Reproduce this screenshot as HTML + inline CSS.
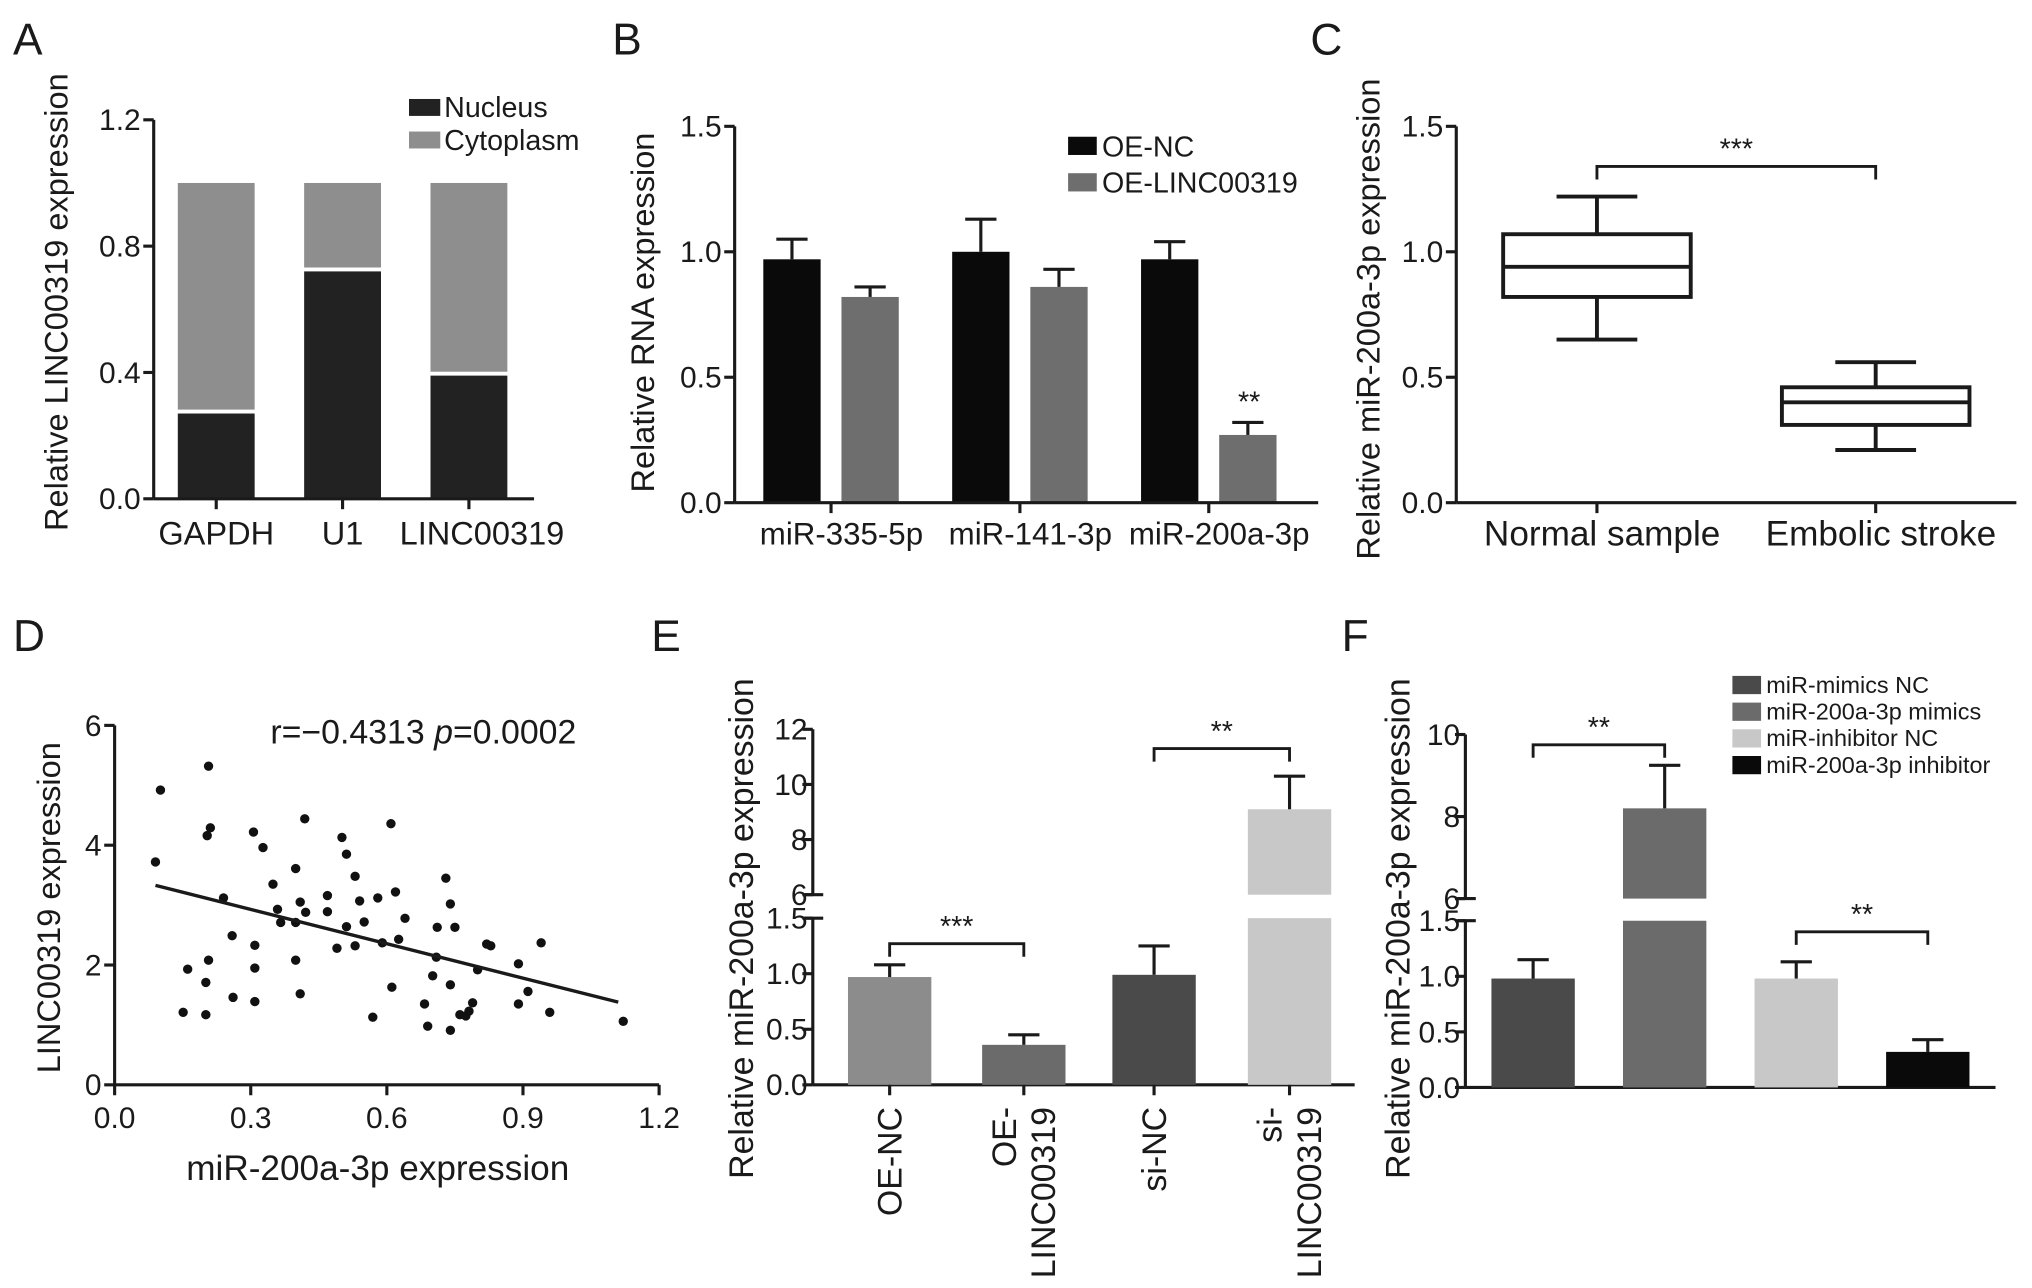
<!DOCTYPE html>
<html><head><meta charset="utf-8"><style>
html,body{margin:0;padding:0;background:#fff;}
svg{display:block;font-family:"Liberation Sans",Arial,sans-serif;}
</style></head><body>
<svg id="fig" width="2032" height="1288" viewBox="0 0 1560 989" preserveAspectRatio="none" xmlns="http://www.w3.org/2000/svg"></svg>
<script>
// ---- Panel A data ----
const aCats = ["GAPDH","U1","LINC00319"];
const aNucleus = [0.27,0.72,0.39];
const aTotal = [1.0,1.0,1.0];
const aTicks = [0,0.4,0.8,1.2];
// ---- Panel B data ----
const bCats = ["miR-335-5p","miR-141-3p","miR-200a-3p"];
const bNC = [0.97,1.0,0.97];
const bNCerr = [0.08,0.13,0.07];
const bOE = [0.82,0.86,0.27];
const bOEerr = [0.04,0.07,0.05];
const bTicks = [0,0.5,1.0,1.5];
// ---- Panel C data ----
const cCats = ["Normal sample","Embolic stroke"];
const cMin = [0.65,0.21];
const cQ1 = [0.82,0.31];
const cMed = [0.94,0.40];
const cQ3 = [1.07,0.46];
const cMax = [1.22,0.56];
const cTicks = [0,0.5,1.0,1.5];
// ---- Panel D data ----
const dX = [0.101,0.09,0.207,0.211,0.204,0.24,0.161,0.151,0.207,0.201,0.201,0.259,0.261,0.306,0.327,0.309,0.309,0.309,0.349,0.359,0.366,0.399,0.409,0.399,0.399,0.409,0.419,0.421,0.469,0.469,0.49,0.501,0.511,0.511,0.53,0.53,0.54,0.55,0.569,0.58,0.59,0.609,0.611,0.619,0.626,0.64,0.683,0.69,0.701,0.709,0.711,0.73,0.74,0.74,0.74,0.75,0.761,0.774,0.781,0.789,0.8,0.82,0.829,0.89,0.89,0.911,0.94,0.959,1.121];
const dY = [4.92,3.72,5.32,4.29,4.16,3.12,1.93,1.21,2.08,1.71,1.17,2.49,1.46,4.22,3.96,2.33,1.95,1.39,3.35,2.93,2.71,3.61,3.05,2.71,2.08,1.52,4.44,2.88,3.16,2.89,2.28,4.13,3.85,2.64,3.48,2.32,3.07,2.72,1.13,3.12,2.37,4.36,1.63,3.22,2.43,2.78,1.35,0.98,1.82,2.13,2.63,3.45,3.02,1.67,0.91,2.63,1.17,1.15,1.23,1.37,1.92,2.35,2.32,2.02,1.35,1.56,2.37,1.21,1.06];
const dFitX = [0.09,1.11];
const dFitY = [3.33,1.38];
const dXTicks = [0,0.3,0.6,0.9,1.2];
const dYTicks = [0,2,4,6];
// ---- Panel E data ----
const eCats = [["OE-NC"],["OE-","LINC00319"],["si-NC"],["si-","LINC00319"]];
const eVals = [0.97,0.36,0.99,9.1];
const eErr = [0.11,0.09,0.26,1.2];
const eLowTicks = [0,0.5,1.0,1.5];
const eHighTicks = [6,8,10,12];
// ---- Panel F data ----
const fNames = ["miR-mimics NC","miR-200a-3p mimics","miR-inhibitor NC","miR-200a-3p inhibitor"];
const fVals = [0.98,8.2,0.98,0.32];
const fErr = [0.17,1.05,0.15,0.11];
const fLowTicks = [0,0.5,1.0,1.5];
const fHighTicks = [6,8,10];

const NS="http://www.w3.org/2000/svg";
const svg=document.getElementById('fig');
const TS=23, CS=25, AS=25;
function el(tag,attrs,parent){const e=document.createElementNS(NS,tag);for(const k in attrs)e.setAttribute(k,attrs[k]);(parent||svg).appendChild(e);return e;}
function txt(s,x,y,size,anchor,parent,rot){const t=el('text',{x:x,y:y,'font-size':size,'text-anchor':anchor||'middle',fill:'#1a1a1a'},parent);if(rot)t.setAttribute('transform',`rotate(${rot} ${x} ${y})`);t.textContent=s;return t;}
function line(x1,y1,x2,y2,parent,w){return el('line',{x1:x1,y1:y1,x2:x2,y2:y2,stroke:'#1a1a1a','stroke-width':w||2.4},parent);}
function grp(name){const g=el('g',{});return g;}
function errbar(x,y1,y2,parent){line(x,y1,x,y2,parent,2.4);line(x-12,y2,x+12,y2,parent,2.4);}
function bracket(x1,x2,y,label,parent){el('path',{d:`M${x1} ${y+10}V${y}H${x2}V${y+10}`,fill:'none',stroke:'#1a1a1a','stroke-width':2.2},parent);txt(label,(x1+x2)/2,y-6,22,'middle',parent);}
function letter(s,x,y){const g=grp('panel-label-'+s.toLowerCase());txt(s,x,y,34,'start',g);}

// ===== Panel A =====
(function(){
  const g=grp('panel-a');
  const x0=118,y0=383,y1=92,vmax=1.2;
  const Y=v=>y0-(v/vmax)*(y0-y1);
  const centers=[166,263,360];const bw=59;
  letter('A',10,42);
  aCats.forEach((c,i)=>{
    const cx=centers[i];
    const r1=el('rect',{x:cx-bw/2,y:Y(aNucleus[i]),width:bw,height:y0-Y(aNucleus[i]),fill:'#222'},g);
    
    const r2=el('rect',{x:cx-bw/2,y:Y(aTotal[i]),width:bw,height:Y(aNucleus[i])-Y(aTotal[i])-3,fill:'#8e8e8e'},g);
    
    line(cx,y0,cx,y0+8,g);
    txt(c,cx+(i==2?10:0),418,CS,'middle',g);
  });
  line(x0,y1,x0,y0,g);line(x0,y0,410,y0,g);
  aTicks.forEach(t=>{line(x0-8,Y(t),x0,Y(t),g);txt(t.toFixed(1),x0-10,Y(t)+8,TS,'end',g);});
  txt('Relative LINC00319 expression',52,232,AS,'middle',g,-90);
  const lg=grp('legend-a');
  el('rect',{x:314,y:76,width:24,height:13,fill:'#222'},lg);txt('Nucleus',341,90,22,'start',lg);
  el('rect',{x:314,y:101,width:24,height:13,fill:'#8e8e8e'},lg);txt('Cytoplasm',341,115,22,'start',lg);
})();

// ===== Panel B =====
(function(){
  const g=grp('panel-b');
  const x0=564,y0=386,y1=97,vmax=1.5;
  const Y=v=>y0-(v/vmax)*(y0-y1);
  const centers=[638,783,928];const bw=44;
  letter('B',470,42);
  bCats.forEach((c,i)=>{
    const cx=centers[i];
    const xa=cx-30,xb=cx+30;
    const r1=el('rect',{x:xa-bw/2,y:Y(bNC[i]),width:bw,height:y0-Y(bNC[i]),fill:'#0a0a0a'},g);
    
    errbar(xa,Y(bNC[i]),Y(bNC[i]+bNCerr[i]),g);
    const r2=el('rect',{x:xb-bw/2,y:Y(bOE[i]),width:bw,height:y0-Y(bOE[i]),fill:'#6e6e6e'},g);
    
    errbar(xb,Y(bOE[i]),Y(bOE[i]+bOEerr[i]),g);
    line(cx,y0,cx,y0+8,g);
    txt(c,cx+8,418,24,'middle',g);
  });
  txt('**',959,316,22,'middle',g);
  line(x0,y1,x0,y0,g);line(x0,y0,1012,y0,g);
  bTicks.forEach(t=>{line(x0-8,Y(t),x0,Y(t),g);txt(t.toFixed(1),x0-10,Y(t)+8,TS,'end',g);});
  txt('Relative RNA expression',502,240,AS,'middle',g,-90);
  const lg=grp('legend-b');
  el('rect',{x:820,y:105,width:22,height:14,fill:'#0a0a0a'},lg);txt('OE-NC',846,120,22,'start',lg);
  el('rect',{x:820,y:133,width:22,height:14,fill:'#6e6e6e'},lg);txt('OE-LINC00319',846,148,22,'start',lg);
})();

// ===== Panel C =====
(function(){
  const g=grp('panel-c');
  const x0=1118,y0=386,y1=97,vmax=1.5;
  const Y=v=>y0-(v/vmax)*(y0-y1);
  const centers=[1226,1440];const bw=144;
  letter('C',1006,42);
  cCats.forEach((c,i)=>{
    const cx=centers[i];
    const b=grp('box-'+i);g.appendChild(b);
    el('rect',{x:cx-bw/2,y:Y(cQ3[i]),width:bw,height:Y(cQ1[i])-Y(cQ3[i]),fill:'none',stroke:'#1a1a1a','stroke-width':3},b);
    line(cx-bw/2,Y(cMed[i]),cx+bw/2,Y(cMed[i]),b,3);
    line(cx,Y(cQ3[i]),cx,Y(cMax[i]),b,3);line(cx,Y(cQ1[i]),cx,Y(cMin[i]),b,3);
    line(cx-31,Y(cMax[i]),cx+31,Y(cMax[i]),b,3);line(cx-31,Y(cMin[i]),cx+31,Y(cMin[i]),b,3);
    line(cx,y0,cx,y0+8,g);
    txt(c,cx+4,419,27,'middle',g);
  });
  bracket(centers[0],centers[1],Y(1.34),'***',g);
  line(x0,y1,x0,y0,g);line(x0,y0,1548,y0,g);
  cTicks.forEach(t=>{line(x0-8,Y(t),x0,Y(t),g);txt(t.toFixed(1),x0-10,Y(t)+8,TS,'end',g);});
  txt('Relative miR-200a-3p expression',1059,245,AS,'middle',g,-90);
})();

// ===== Panel D =====
(function(){
  const g=grp('panel-d');
  const x0=88,x1=506,y0=833,y1=557;
  const X=v=>x0+(v/1.2)*(x1-x0);const Y=v=>y0-(v/6)*(y0-y1);
  letter('D',10,500);
  dX.forEach((x,i)=>{const c=el('circle',{cx:X(x),cy:Y(dY[i]),r:3.6,fill:'#111'},g);});
  const fl=line(X(dFitX[0]),Y(dFitY[0]),X(dFitX[1]),Y(dFitY[1]),g,2.6);
  line(x0,y1,x0,y0,g);line(x0,y0,x1,y0,g);
  dXTicks.forEach(t=>{line(X(t),y0,X(t),y0+8,g);txt(t.toFixed(1),X(t),866,TS,'middle',g);});
  dYTicks.forEach(t=>{line(x0-8,Y(t),x0,Y(t),g);txt(String(t),x0-10,Y(t)+8,TS,'end',g);});
  const a=txt('',325,571,26,'middle',g);a.innerHTML='r=−0.4313 <tspan font-style="italic">p</tspan>=0.0002';
  txt('miR-200a-3p expression',290,906,27,'middle',g);
  txt('LINC00319 expression',46,697,AS,'middle',g,-90);
})();

// ===== broken-axis helper =====
function brokenAxis(g,x0,xEnd,lowY0,lowY1,lowMax,hiY0,hiY1,hiMin,hiMax,lowTicks,hiTicks){
  const Y=v=> v<=lowMax ? lowY0-(v/lowMax)*(lowY0-lowY1) : hiY0-((v-hiMin)/(hiMax-hiMin))*(hiY0-hiY1);
  line(x0,lowY1,x0,lowY0,g);line(x0,hiY1,x0,hiY0,g);
  line(x0-6,lowY1,x0+8,lowY1,g);line(x0-6,hiY0,x0+8,hiY0,g);
  line(x0,lowY0,xEnd,lowY0,g);
  lowTicks.forEach(t=>{line(x0-8,Y(t),x0,Y(t),g);txt(t.toFixed(1),x0-4,Y(t)+8,TS,'end',g);});
  hiTicks.forEach(t=>{const yy=hiY0-((t-hiMin)/(hiMax-hiMin))*(hiY0-hiY1);line(x0-8,yy,x0,yy,g);txt(String(t),x0-4,yy+8,TS,'end',g);});
  return Y;
}

// ===== Panel E =====
(function(){
  const g=grp('panel-e');
  letter('E',500,500);
  const x0=624;
  const Y=brokenAxis(g,x0,1040,833,705,1.5,687,560,6,12,eLowTicks,eHighTicks);
  const centers=[683,786,886,990];const bw=64;const cols=['#8c8c8c','#6b6b6b','#4a4a4a','#c8c8c8'];
  eVals.forEach((v,i)=>{
    const cx=centers[i];
    if(v<=1.5){const r=el('rect',{x:cx-bw/2,y:Y(v),width:bw,height:833-Y(v),fill:cols[i]},g);}
    else{const r=el('rect',{x:cx-bw/2,y:Y(1.5),width:bw,height:833-Y(1.5),fill:cols[i]},g);
      const r2=el('rect',{x:cx-bw/2,y:Y(v),width:bw,height:Y(6.0001)-Y(v),fill:cols[i]},g);}
    errbar(cx,Y(v),Y(v+eErr[i]),g);
    line(cx,833,cx,841,g);
    const lines=eCats[i];
    lines.forEach((s,j)=>{const xx=cx+9+(j-(lines.length-1))*30+(lines.length>1?15:0);txt(s,xx,850,26,'end',g,-90);});
  });
  bracket(centers[0],centers[1],Y(1.27),'***',g);
  bracket(centers[2],centers[3],Y(11.3),'**',g);
  txt('Relative miR-200a-3p expression',578,713,26,'middle',g,-90);
})();

// ===== Panel F =====
(function(){
  const g=grp('panel-f');
  letter('F',1030,500);
  const x0=1125;
  const Y=brokenAxis(g,x0,1532,835,707,1.5,690,564,6,10,fLowTicks,fHighTicks);
  const centers=[1177,1278,1379,1480];const bw=64;const cols=['#4a4a4a','#6b6b6b','#c8c8c8','#0a0a0a'];
  fVals.forEach((v,i)=>{
    const cx=centers[i];
    if(v<=1.5){const r=el('rect',{x:cx-bw/2,y:Y(v),width:bw,height:835-Y(v),fill:cols[i]},g);}
    else{const r=el('rect',{x:cx-bw/2,y:Y(1.5),width:bw,height:835-Y(1.5),fill:cols[i]},g);
      const r2=el('rect',{x:cx-bw/2,y:Y(v),width:bw,height:Y(6.0001)-Y(v),fill:cols[i]},g);}
    errbar(cx,Y(v),Y(v+fErr[i]),g);
  });
  bracket(centers[0],centers[1],Y(9.75),'**',g);
  bracket(centers[2],centers[3],Y(1.4),'**',g);
  txt('Relative miR-200a-3p expression',1082,713,26,'middle',g,-90);
  const lg=grp('legend-f');
  fNames.forEach((n,i)=>{const yy=526+i*20.5;el('rect',{x:1330,y:yy-7,width:22,height:14,fill:cols[i]},lg);txt(n,1356,yy+6,18,'start',lg);});
})();
</script>
</body></html>
